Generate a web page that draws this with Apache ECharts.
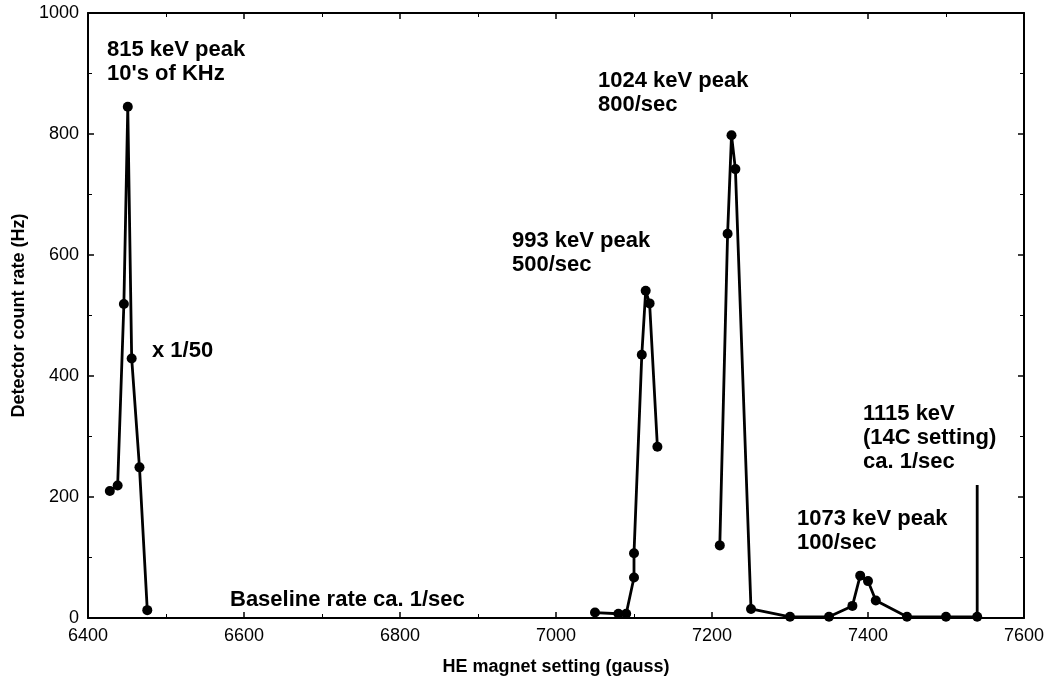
<!DOCTYPE html>
<html>
<head>
<meta charset="utf-8">
<script src="https://cdn.jsdelivr.net/npm/echarts@6/dist/echarts.min.js"></script>
<style>
html,body{margin:0;padding:0;background:#fff;}
#chart{width:1048px;height:696px;}
</style>
</head>
<body>
<div id="chart"></div>
<script>
// Data
var xTicks = [6400, 6600, 6800, 7000, 7200, 7400, 7600];
var yTicks = [0, 200, 400, 600, 800, 1000];

var peak815X = [6428, 6438, 6446, 6451, 6456, 6466, 6476];
var peak815Y = [210, 219, 519, 845, 429, 249, 13];

var peak993X = [7050, 7080, 7090, 7100, 7100, 7110, 7115, 7120, 7130];
var peak993Y = [9, 7, 7, 67, 107, 435, 541, 520, 283];

var peak1024X = [7210, 7220, 7225, 7230, 7250, 7300, 7350, 7380, 7390, 7400, 7410, 7450, 7500, 7540];
var peak1024Y = [120, 635, 798, 742, 15, 2, 2, 20, 70, 61, 29, 2, 2, 2];

var marker1115X = [7540, 7540];
var marker1115Y = [0, 220];

function zip(xs, ys) { return xs.map(function (x, i) { return [x, ys[i]]; }); }

var FONT = 'Liberation Sans, Arial, sans-serif';
var chart = echarts.init(document.getElementById('chart'));

var axisCommon = {
  type: 'value',
  axisLine: { show: true, onZero: false, lineStyle: { color: '#000', width: 2 } },
  axisTick: { show: true, inside: true, length: 6, lineStyle: { color: '#000', width: 1.5 } },
  minorTick: { show: true, splitNumber: 2, length: 4, lineStyle: { color: '#000', width: 1 } },
  splitLine: { show: false },
  minorSplitLine: { show: false }
};

function seriesLine(name, data, showSym) {
  return {
    name: name,
    type: 'line',
    data: data,
    xAxisIndex: 0,
    yAxisIndex: 0,
    symbol: 'circle',
    symbolSize: 10,
    showSymbol: showSym,
    animation: false,
    lineStyle: { color: '#000', width: 2.8 },
    itemStyle: { color: '#000' },
    z: 3
  };
}

var textStyle = { fill: '#000', font: 'bold 22px ' + FONT, lineHeight: 24 };
var plain = function (v) { return String(v); };

var option = {
  animation: false,
  backgroundColor: '#fff',
  grid: { left: 88, right: 24, top: 13, bottom: 78 },
  xAxis: [
    Object.assign({}, axisCommon, {
      position: 'bottom',
      min: xTicks[0], max: xTicks[xTicks.length - 1], interval: 200,
      name: 'HE magnet setting (gauss)',
      nameLocation: 'middle', nameGap: 40,
      nameTextStyle: { fontFamily: FONT, fontSize: 18, fontWeight: 'bold', color: '#000' },
      axisLabel: { fontFamily: FONT, fontSize: 18, color: '#000', margin: 9, formatter: plain }
    }),
    Object.assign({}, axisCommon, {
      position: 'top',
      min: xTicks[0], max: xTicks[xTicks.length - 1], interval: 200,
      axisLabel: { show: false }
    })
  ],
  yAxis: [
    Object.assign({}, axisCommon, {
      position: 'left',
      min: yTicks[0], max: yTicks[yTicks.length - 1], interval: 200,
      name: 'Detector count rate (Hz)',
      nameLocation: 'middle', nameGap: 47,
      nameTextStyle: { fontFamily: FONT, fontSize: 18, fontWeight: 'bold', color: '#000' },
      axisLabel: { fontFamily: FONT, fontSize: 18, color: '#000', margin: 9, formatter: plain }
    }),
    Object.assign({}, axisCommon, {
      position: 'right',
      min: yTicks[0], max: yTicks[yTicks.length - 1], interval: 200,
      axisLabel: { show: false }
    })
  ],
  series: [
    seriesLine('815 keV', zip(peak815X, peak815Y), true),
    seriesLine('993 keV', zip(peak993X, peak993Y), true),
    seriesLine('1024 keV', zip(peak1024X, peak1024Y), true),
    seriesLine('1115 keV', zip(marker1115X, marker1115Y), false)
  ],
  graphic: [
    { type: 'text', left: 107, top: 38, style: Object.assign({ text: "815 keV peak\n10's of KHz" }, textStyle) },
    { type: 'text', left: 152, top: 339, style: Object.assign({ text: 'x 1/50' }, textStyle) },
    { type: 'text', left: 512, top: 229, style: Object.assign({ text: '993 keV peak\n500/sec' }, textStyle) },
    { type: 'text', left: 598, top: 69, style: Object.assign({ text: '1024 keV peak\n800/sec' }, textStyle) },
    { type: 'text', left: 797, top: 507, style: Object.assign({ text: '1073 keV peak\n100/sec' }, textStyle) },
    { type: 'text', left: 863, top: 402, style: Object.assign({ text: '1115 keV\n(14C setting)\nca. 1/sec', lineHeight: 25 }, textStyle) },
    { type: 'text', left: 230, top: 588, style: Object.assign({ text: 'Baseline rate ca. 1/sec' }, textStyle) }
  ]
};
chart.setOption(option);
</script>
</body>
</html>
